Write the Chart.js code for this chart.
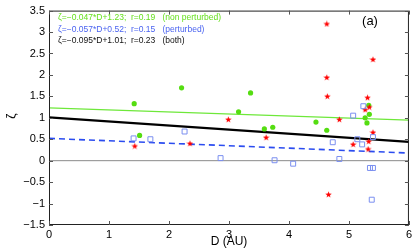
<!DOCTYPE html>
<html>
<head>
<meta charset="utf-8">
<script src="https://cdn.jsdelivr.net/npm/chart.js@4.4.0/dist/chart.umd.min.js"></script>
<style>
  html, body { margin: 0; padding: 0; background: #fff; }
  #chart { display: block; }
</style>
</head>
<body>
<canvas id="chart" width="415" height="249"></canvas>
<script>
// non perturbed (green dots)
const greenD = [1.42, 1.51, 2.21, 3.16, 3.36, 3.59, 3.73, 4.45, 4.63, 5.27, 5.30, 5.33, 5.34];
const greenZeta = [1.33, 0.59, 1.70, 1.14, 1.58, 0.74, 0.78, 0.90, 0.71, 1.00, 0.88, 1.29, 1.08];

// red stars
const starD = [1.43, 2.35, 2.99, 3.62, 4.63, 4.63, 4.64, 4.66, 4.84, 5.07, 5.27, 5.31, 5.32, 5.33, 5.34, 5.40, 5.40];
const starZeta = [0.34, 0.40, 0.96, 0.54, 3.19, 1.94, 1.50, -0.79, 0.96, 0.38, 1.19, 1.47, 0.27, 0.45, 1.25, 2.36, 0.66];

// perturbed (blue squares)
const squareD = [1.41, 1.69, 2.26, 2.86, 3.76, 4.07, 4.73, 4.84, 5.07, 5.14, 5.22, 5.24, 5.35, 5.40, 5.38, 5.40];
const squareZeta = [0.52, 0.50, 0.68, 0.06, 0.01, -0.07, 0.43, 0.04, 1.05, 0.50, 0.38, 1.27, -0.17, -0.17, -0.91, 0.55];

// fitted lines, values at D = 0 and D = 6
const fitD = [0, 6];
const fitNonPerturbed = [1.23, 0.948];
const fitPerturbed = [0.52, 0.178];
const fitBoth = [1.01, 0.44];
const zeroLine = [0, 0];

const legendLines = [
  "\u03b6=\u22120.047*D+1.23;  r=0.19   (non perturbed)",
  "\u03b6=\u22120.057*D+0.52;  r=0.15   (perturbed)",
  "\u03b6=\u22120.095*D+1.01;  r=0.23   (both)"
];

const xTicks = [0, 1, 2, 3, 4, 5, 6];

function pts(xs, ys) {
  return xs.map((x, i) => ({ x: x, y: ys[i] }));
}

// filled five point star for the red markers
const starImg = document.createElement("canvas");
starImg.width = 7;
starImg.height = 7;
(function () {
  const c = starImg.getContext("2d");
  c.fillStyle = "#ff0000";
  c.beginPath();
  for (let i = 0; i < 10; i++) {
    const r = i % 2 === 0 ? 3.4 : 1.4;
    const a = -Math.PI / 2 + i * Math.PI / 5;
    const px = 3.5 + r * Math.cos(a);
    const py = 3.7 + r * Math.sin(a);
    if (i === 0) c.moveTo(px, py); else c.lineTo(px, py);
  }
  c.closePath();
  c.fill();
})();

const FONT = "'Liberation Sans', Arial, sans-serif";

// frame, inward ticks, axis titles and the text inside the axes
const decorations = {
  id: "decorations",
  afterDraw(chart) {
    const ctx = chart.ctx;
    const a = chart.chartArea;
    const xs = chart.scales.x;
    const ys = chart.scales.y;
    ctx.save();
    ctx.strokeStyle = "#222";
    ctx.lineWidth = 1;
    ctx.strokeRect(a.left + 0.5, a.top + 0.5, a.right - a.left - 1, a.bottom - a.top - 1);
    ctx.strokeStyle = "#555";
    ctx.beginPath();
    xs.ticks.forEach((t) => {
      const px = Math.round(xs.getPixelForValue(t.value)) + 0.5;
      ctx.moveTo(px, a.bottom); ctx.lineTo(px, a.bottom - 4);
      ctx.moveTo(px, a.top); ctx.lineTo(px, a.top + 4);
    });
    ys.ticks.forEach((t) => {
      const py = Math.round(ys.getPixelForValue(t.value)) + 0.5;
      ctx.moveTo(a.left, py); ctx.lineTo(a.left + 4, py);
      ctx.moveTo(a.right, py); ctx.lineTo(a.right - 4, py);
    });
    ctx.stroke();

    ctx.fillStyle = "#000";
    ctx.font = "12px " + FONT;
    ctx.textAlign = "center";
    ctx.textBaseline = "middle";
    ctx.fillText("D (AU)", (a.left + a.right) / 2, 242);

    ctx.save();
    ctx.translate(12, 116);
    ctx.rotate(-Math.PI / 2);
    ctx.font = "12px " + FONT;
    ctx.fillText("\u03b6", 0, 0);
    ctx.restore();

    ctx.font = "13px " + FONT;
    ctx.fillText("(a)", 370, 21);

    const colors = ["#66e01e", "#4a63f0", "#111"];
    ctx.font = "8.5px " + FONT;
    ctx.textAlign = "left";
    legendLines.forEach((txt, i) => {
      ctx.fillStyle = colors[i];
      ctx.fillText(txt, 58, 18 + i * 11.5);
    });
    ctx.restore();
  }
};

const chart = new Chart(document.getElementById("chart").getContext("2d"), {
  type: "scatter",
  data: {
    datasets: [
      {
        label: "non perturbed",
        data: pts(greenD, greenZeta),
        backgroundColor: "#55dd11",
        borderColor: "#55dd11",
        pointRadius: 2.6,
        pointBorderWidth: 0,
        order: 3
      },
      {
        label: "stars",
        data: pts(starD, starZeta),
        pointStyle: starImg,
        pointRadius: 3,
        order: 2
      },
      {
        label: "perturbed",
        data: pts(squareD, squareZeta),
        pointStyle: "rect",
        backgroundColor: "rgba(0,0,0,0)",
        borderColor: "#7b8ff0",
        pointBorderWidth: 1,
        pointRadius: 3.5,
        order: 1
      },
      {
        type: "line",
        data: pts(fitD, zeroLine),
        borderColor: "#8a8a8a",
        borderWidth: 1,
        pointRadius: 0,
        order: 9
      },
      {
        type: "line",
        data: pts(fitD, fitNonPerturbed),
        borderColor: "#6ee83a",
        borderWidth: 1.3,
        pointRadius: 0,
        order: 6
      },
      {
        type: "line",
        data: pts(fitD, fitPerturbed),
        borderColor: "#2b4cf0",
        borderWidth: 1.6,
        borderDash: [6, 4],
        pointRadius: 0,
        order: 7
      },
      {
        type: "line",
        data: pts(fitD, fitBoth),
        borderColor: "#000",
        borderWidth: 2.2,
        pointRadius: 0,
        order: 5
      }
    ]
  },
  options: {
    responsive: false,
    animation: false,
    layout: { padding: { top: 7, right: 6, left: 0, bottom: 0 } },
    plugins: {
      legend: { display: false },
      tooltip: { enabled: false }
    },
    scales: {
      x: {
        type: "linear",
        min: 0,
        max: 6,
        afterBuildTicks: (scale) => { scale.ticks = xTicks.map((v) => ({ value: v })); },
        grid: { display: false, drawTicks: false },
        border: { display: false },
        ticks: {
          padding: 3,
          color: "#000",
          font: { family: FONT, size: 11 },
          maxRotation: 0
        },
        afterFit: (scale) => { scale.height = 24; }
      },
      y: {
        min: -1.5,
        max: 3.5,
        grid: { display: false, drawTicks: false },
        border: { display: false },
        ticks: {
          stepSize: 0.5,
          padding: 4,
          color: "#000",
          font: { family: FONT, size: 11 },
          callback: (v) => (v < 0 ? "\u2212" + Math.abs(v) : String(v))
        },
        afterFit: (scale) => { scale.width = 49; }
      }
    }
  },
  plugins: [decorations]
});
</script>
</body>
</html>
